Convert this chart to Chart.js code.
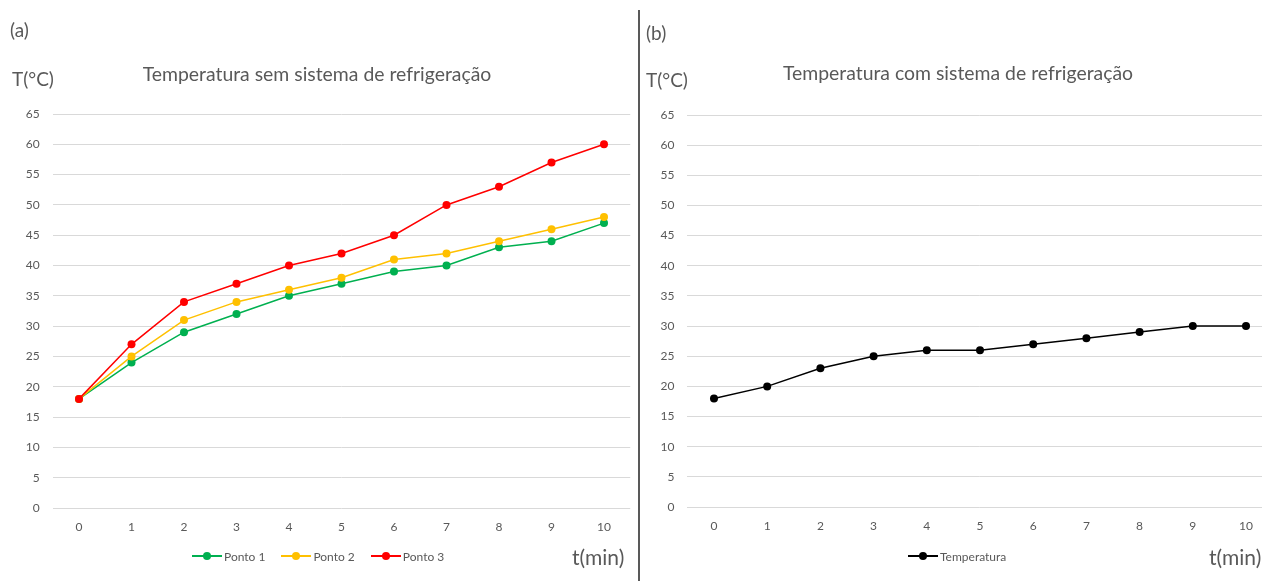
<!DOCTYPE html>
<html>
<head>
<meta charset="utf-8">
<script src="https://cdn.jsdelivr.net/npm/chart.js@4.4.1/dist/chart.umd.min.js"></script>
<style>
    body {
        margin: 0;
        width: 1262px;
        height: 581px;
        overflow: hidden;
        position: relative;
        background: #fff;
        font-family: Lato, "Open Sans", sans-serif;
        color: #595959;
    }
    .panel { position: absolute; top: 0; height: 581px; overflow: hidden; }
    .txt { position: absolute; white-space: nowrap; line-height: 1; }
    .big { font-size: 19px; }
    .title { font-size: 19.4px; transform: translateX(-50%); }
    .sep { position: absolute; left: 638px; top: 10px; width: 1.5px; height: 571px; background: #595959; }
    .leg { position: absolute; top: 549px; height: 14px; display: flex; align-items: center; font-size: 12px; }
    .mk { position: relative; width: 30px; height: 1.5px; margin-right: 2px; }
    .mk i { position: absolute; left: 11px; top: -3.25px; width: 8px; height: 8px; border-radius: 50%; }
</style>
</head>
<body>

<div class="panel" style="left:0; width:637px;"><canvas id="chartA" width="637" height="581"></canvas></div>
<div class="panel" style="left:640px; width:622px;"><canvas id="chartB" width="640" height="581"></canvas></div>
<div class="sep"></div>

<div class="txt big" style="left:10px; top:20px;">(a)</div>
<div class="txt big" style="left:12px; top:69px;">T(°C)</div>
<div class="txt title" style="left:317px; top:64px;">Temperatura sem sistema de refrigeração</div>
<div class="txt" style="left:572px; top:546px; font-size:21px;">t(min)</div>

<div class="txt big" style="left:646px; top:23px;">(b)</div>
<div class="txt big" style="left:646px; top:70px;">T(°C)</div>
<div class="txt title" style="left:958px; top:63px;">Temperatura com sistema de refrigeração</div>
<div class="txt" style="left:1209px; top:546px; font-size:21px;">t(min)</div>

<div id="legendA"></div>
<div id="legendB"></div>

<script>
// x axis: time in minutes
const minutes = ['0', '1', '2', '3', '4', '5', '6', '7', '8', '9', '10'];

// (a) without cooling system
const ponto1 = [18, 24, 29, 32, 35, 37, 39, 40, 43, 44, 47];
const ponto2 = [18, 25, 31, 34, 36, 38, 41, 42, 44, 46, 48];
const ponto3 = [18, 27, 34, 37, 40, 42, 45, 50, 53, 57, 60];

// (b) with cooling system
const temperatura = [18, 20, 23, 25, 26, 26, 27, 28, 29, 30, 30];

// y axis ticks
const Y_MIN = 0;
const Y_MAX = 65;
const Y_STEP = 5;

const GRID = '#d9d9d9';
const TEXT = '#595959';

function lineSet(label, data, color, order) {
    return {
        label: label,
        data: data,
        borderColor: color,
        backgroundColor: color,
        borderWidth: 1.5,
        pointRadius: 4,
        pointBorderWidth: 0,
        pointBackgroundColor: color,
        tension: 0,
        order: order
    };
}

// builds one panel; yWidth = left edge of the plot, pad = outer paddings
function makeChart(id, datasets, yWidth, pad) {
    const ctx = document.getElementById(id).getContext('2d');
    return new Chart(ctx, {
        type: 'line',
        data: { labels: minutes, datasets: datasets },
        options: {
            responsive: false,
            animation: false,
            layout: { padding: pad },
            plugins: {
                legend: { display: false },
                tooltip: { enabled: false },
                title: { display: false }
            },
            scales: {
                x: {
                    offset: true,
                    grid: { display: false, drawTicks: false },
                    border: { display: false },
                    ticks: { color: TEXT, font: { family: 'Lato', size: 12 }, padding: 12, maxRotation: 0 },
                    afterFit: function(scale) { scale.height = 40; }
                },
                y: {
                    min: Y_MIN,
                    max: Y_MAX,
                    ticks: { stepSize: Y_STEP, color: TEXT, font: { family: 'Lato', size: 12 }, padding: 13 },
                    grid: { color: GRID, lineWidth: 1, drawTicks: false },
                    border: { display: false },
                    afterFit: function(scale) { scale.width = yWidth; }
                }
            }
        }
    });
}

// HTML legend: line + dot marker, then the label
function renderLegend(elId, items, left) {
    const box = document.getElementById(elId);
    box.className = 'leg';
    box.style.left = left + 'px';
    box.innerHTML = items.map(it => `
        <span class="mk" style="background:${it.color}"><i style="background:${it.color}"></i></span>
        <span style="margin-right:${it.gap || 0}px">${it.label}</span>
    `).join('');
}

makeChart('chartA', [
    lineSet('Ponto 1', ponto1, '#00b050', 3),
    lineSet('Ponto 2', ponto2, '#ffc000', 2),
    lineSet('Ponto 3', ponto3, '#ff0000', 1)
], 52.75, { left: 0, right: 6.75, top: 114, bottom: 33 });

makeChart('chartB', [
    lineSet('Temperatura', temperatura, '#000000', 1)
], 47.4, { left: 0, right: 7.4, top: 115, bottom: 34 });

renderLegend('legendA', [
    { label: 'Ponto 1', color: '#00b050', gap: 16 },
    { label: 'Ponto 2', color: '#ffc000', gap: 16 },
    { label: 'Ponto 3', color: '#ff0000' }
], 192);

renderLegend('legendB', [
    { label: 'Temperatura', color: '#000000' }
], 908);
</script>
</body>
</html>
